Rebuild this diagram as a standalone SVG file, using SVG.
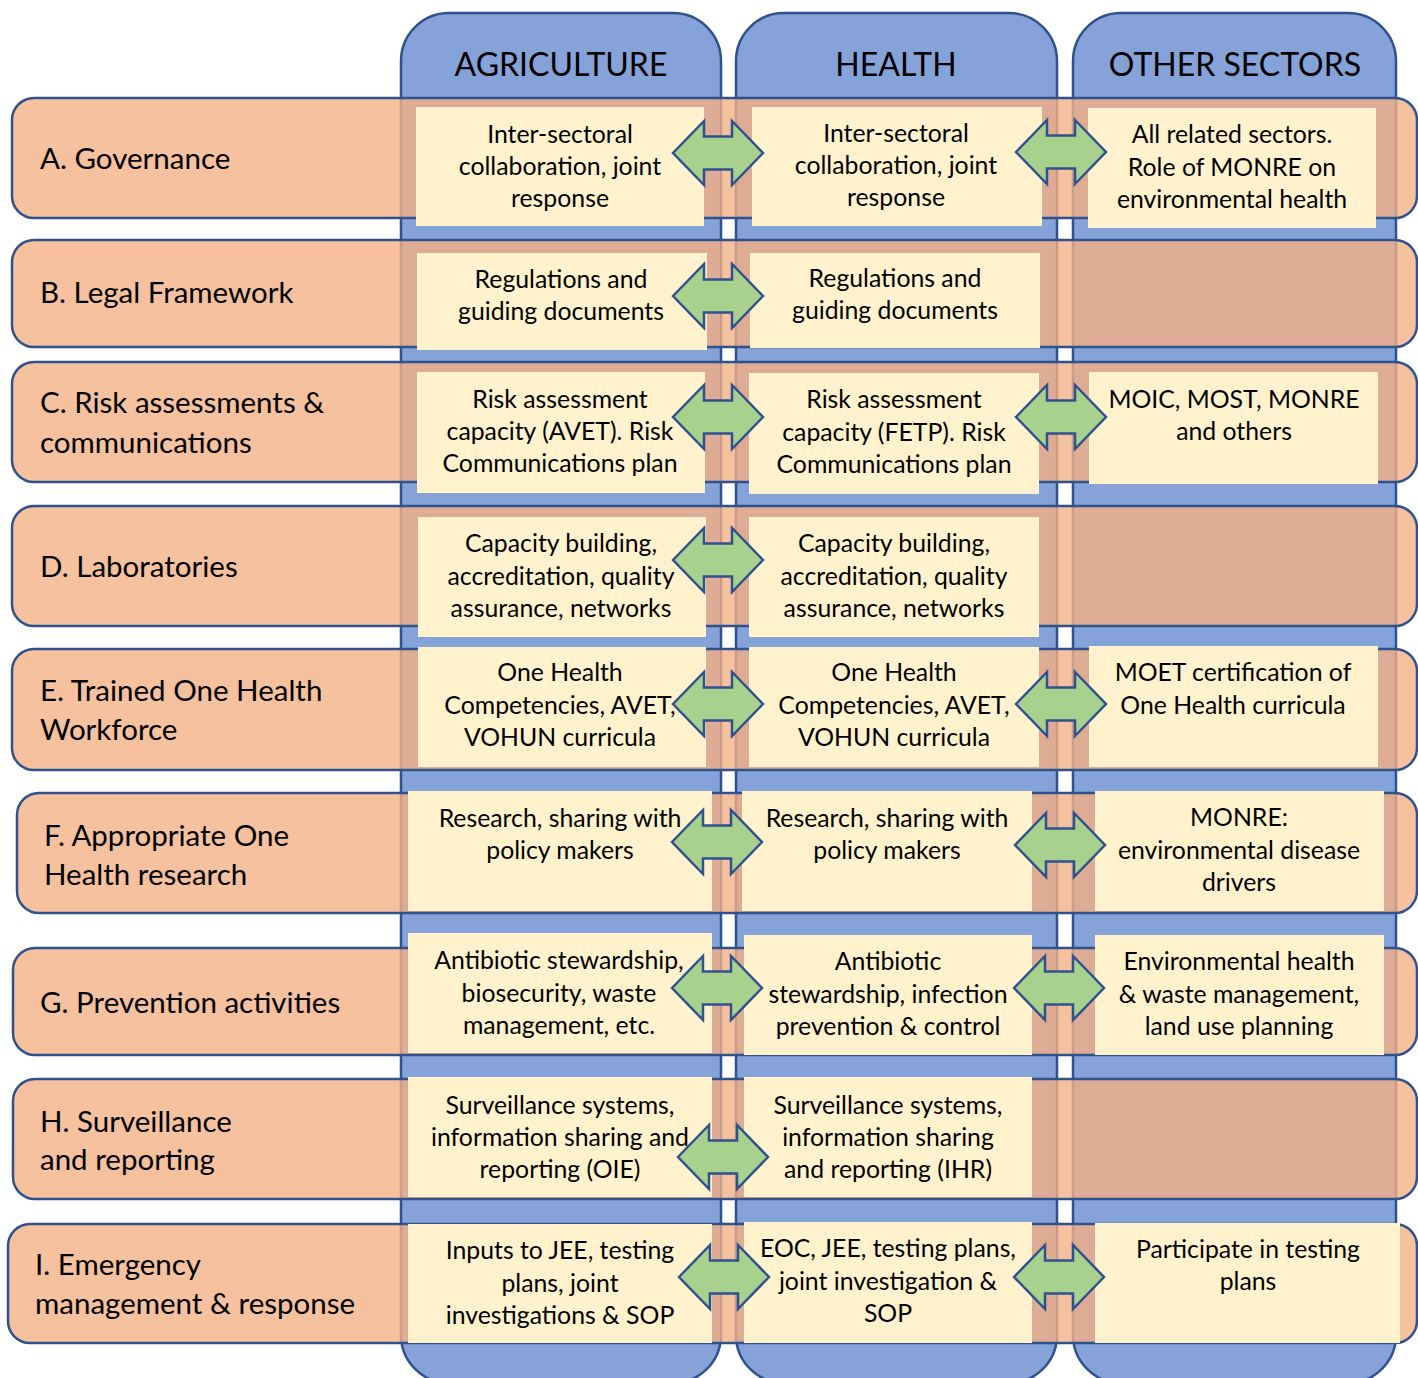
<svg xmlns="http://www.w3.org/2000/svg" width="1418" height="1378" viewBox="0 0 1418 1378">
  <style>
    .col { fill: #86A3D9; stroke: #2F528F; stroke-width: 2.5; }
    .row { fill: #F5C19E; }
    .tan { fill: #DEAC94; }
    .seam { fill: none; stroke: #C89D88; stroke-width: 2.5; }
    .edge { fill: none; stroke: #2F528F; stroke-width: 2.5; }
    .box { fill: #FFF2CC; }
    .arrow { fill: #A9D18E; stroke: #2F528F; stroke-width: 2.5; stroke-linejoin: miter; }
    text { font-family: Lato, "Liberation Sans", sans-serif; fill: #000; }
    .hdr { font-size: 32px; text-anchor: middle; }
    .lbl { font-size: 29.5px; }
    .txt { font-size: 24.8px; text-anchor: middle; }
  </style>
  <defs>
    <path id="dbl" d="M0,0 L31,-32 L31,-16.5 L59,-16.5 L59,-32 L90,0 L59,32 L59,16.5 L31,16.5 L31,32 Z"/>
  </defs>

  <rect width="1418" height="1378" fill="#FFFFFF"/>

  <!-- sector columns -->
  <g id="col-agriculture">
    <rect class="col" x="401" y="13" width="320" height="1370" rx="48"/>
    <text class="hdr" x="561" y="76">AGRICULTURE</text>
  </g>
  <g id="col-health">
    <rect class="col" x="736" y="13" width="321" height="1370" rx="48"/>
    <text class="hdr" x="896" y="76">HEALTH</text>
  </g>
  <g id="col-other">
    <rect class="col" x="1073" y="13" width="323" height="1370" rx="48"/>
    <text class="hdr" x="1235" y="76">OTHER SECTORS</text>
  </g>

  <!-- capacity rows -->
  <g id="row-a">
    <rect class="row" x="12" y="98" width="1405" height="120" rx="22"/>
    <path class="tan" d="M401,98h320v120h-320z M736,98h321v120h-321z M1073,98h323v120h-323z"/>
    <path class="seam" d="M401,98v120 M721,98v120 M736,98v120 M1057,98v120 M1073,98v120 M1396,98v120"/>
    <rect class="edge" x="12" y="98" width="1405" height="120" rx="22"/>
    <text class="lbl" x="40" y="169">A. Governance</text>
  </g>
  <g id="row-b">
    <rect class="row" x="12" y="240" width="1405" height="107" rx="22"/>
    <path class="tan" d="M401,240h320v107h-320z M736,240h321v107h-321z M1073,240h323v107h-323z"/>
    <path class="seam" d="M401,240v107 M721,240v107 M736,240v107 M1057,240v107 M1073,240v107 M1396,240v107"/>
    <rect class="edge" x="12" y="240" width="1405" height="107" rx="22"/>
    <text class="lbl" x="40" y="303">B. Legal Framework</text>
  </g>
  <g id="row-c">
    <rect class="row" x="12" y="362" width="1405" height="120" rx="22"/>
    <path class="tan" d="M401,362h320v120h-320z M736,362h321v120h-321z M1073,362h323v120h-323z"/>
    <path class="seam" d="M401,362v120 M721,362v120 M736,362v120 M1057,362v120 M1073,362v120 M1396,362v120"/>
    <rect class="edge" x="12" y="362" width="1405" height="120" rx="22"/>
    <text class="lbl" x="40" y="413">C. Risk assessments &amp;</text>
    <text class="lbl" x="40" y="453">communications</text>
  </g>
  <g id="row-d">
    <rect class="row" x="12" y="506" width="1405" height="120" rx="22"/>
    <path class="tan" d="M401,506h320v120h-320z M736,506h321v120h-321z M1073,506h323v120h-323z"/>
    <path class="seam" d="M401,506v120 M721,506v120 M736,506v120 M1057,506v120 M1073,506v120 M1396,506v120"/>
    <rect class="edge" x="12" y="506" width="1405" height="120" rx="22"/>
    <text class="lbl" x="40" y="577">D. Laboratories</text>
  </g>
  <g id="row-e">
    <rect class="row" x="12" y="649" width="1405" height="121" rx="22"/>
    <path class="tan" d="M401,649h320v121h-320z M736,649h321v121h-321z M1073,649h323v121h-323z"/>
    <path class="seam" d="M401,649v121 M721,649v121 M736,649v121 M1057,649v121 M1073,649v121 M1396,649v121"/>
    <rect class="edge" x="12" y="649" width="1405" height="121" rx="22"/>
    <text class="lbl" x="40" y="701">E. Trained One Health</text>
    <text class="lbl" x="40" y="740">Workforce</text>
  </g>
  <g id="row-f">
    <rect class="row" x="17" y="793" width="1400" height="120" rx="22"/>
    <path class="tan" d="M401,793h320v120h-320z M736,793h321v120h-321z M1073,793h323v120h-323z"/>
    <path class="seam" d="M401,793v120 M721,793v120 M736,793v120 M1057,793v120 M1073,793v120 M1396,793v120"/>
    <rect class="edge" x="17" y="793" width="1400" height="120" rx="22"/>
    <text class="lbl" x="44" y="846">F. Appropriate One</text>
    <text class="lbl" x="44" y="885">Health research</text>
  </g>
  <g id="row-g">
    <rect class="row" x="13" y="948" width="1404" height="107" rx="22"/>
    <path class="tan" d="M401,948h320v107h-320z M736,948h321v107h-321z M1073,948h323v107h-323z"/>
    <path class="seam" d="M401,948v107 M721,948v107 M736,948v107 M1057,948v107 M1073,948v107 M1396,948v107"/>
    <rect class="edge" x="13" y="948" width="1404" height="107" rx="22"/>
    <text class="lbl" x="40" y="1013">G. Prevention activities</text>
  </g>
  <g id="row-h">
    <rect class="row" x="13" y="1079" width="1404" height="120" rx="22"/>
    <path class="tan" d="M401,1079h320v120h-320z M736,1079h321v120h-321z M1073,1079h323v120h-323z"/>
    <path class="seam" d="M401,1079v120 M721,1079v120 M736,1079v120 M1057,1079v120 M1073,1079v120 M1396,1079v120"/>
    <rect class="edge" x="13" y="1079" width="1404" height="120" rx="22"/>
    <text class="lbl" x="40" y="1132">H. Surveillance</text>
    <text class="lbl" x="40" y="1170">and reporting</text>
  </g>
  <g id="row-i">
    <rect class="row" x="8" y="1224" width="1409" height="119" rx="22"/>
    <path class="tan" d="M401,1224h320v119h-320z M736,1224h321v119h-321z M1073,1224h323v119h-323z"/>
    <path class="seam" d="M401,1224v119 M721,1224v119 M736,1224v119 M1057,1224v119 M1073,1224v119 M1396,1224v119"/>
    <rect class="edge" x="8" y="1224" width="1409" height="119" rx="22"/>
    <text class="lbl" x="35" y="1275">I. Emergency</text>
    <text class="lbl" x="35" y="1314">management &amp; response</text>
  </g>

  <!-- cell boxes -->
  <g id="a-agri"><rect class="box" x="416" y="107" width="288" height="119"/>
    <text class="txt" x="560" y="143">Inter-sectoral</text><text class="txt" x="560" y="175">collaboration, joint</text><text class="txt" x="560" y="207">response</text></g>
  <g id="a-health"><rect class="box" x="752" y="107" width="290" height="119"/>
    <text class="txt" x="896" y="142">Inter-sectoral</text><text class="txt" x="896" y="174">collaboration, joint</text><text class="txt" x="896" y="206">response</text></g>
  <g id="a-other"><rect class="box" x="1088" y="108" width="288" height="120"/>
    <text class="txt" x="1232" y="143">All related sectors.</text><text class="txt" x="1232" y="176">Role of MONRE on</text><text class="txt" x="1232" y="208">environmental health</text></g>

  <g id="b-agri"><rect class="box" x="417" y="253" width="290" height="97"/>
    <text class="txt" x="561" y="288">Regulations and</text><text class="txt" x="561" y="320">guiding documents</text></g>
  <g id="b-health"><rect class="box" x="750" y="253" width="290" height="95"/>
    <text class="txt" x="895" y="287">Regulations and</text><text class="txt" x="895" y="319">guiding documents</text></g>

  <g id="c-agri"><rect class="box" x="417" y="372" width="288" height="121"/>
    <text class="txt" x="560" y="408">Risk assessment</text><text class="txt" x="560" y="440">capacity (AVET). Risk</text><text class="txt" x="560" y="472">Communications plan</text></g>
  <g id="c-health"><rect class="box" x="749" y="373" width="290" height="121"/>
    <text class="txt" x="894" y="408">Risk assessment</text><text class="txt" x="894" y="441">capacity (FETP). Risk</text><text class="txt" x="894" y="473">Communications plan</text></g>
  <g id="c-other"><rect class="box" x="1089" y="372" width="289" height="112"/>
    <text class="txt" x="1234" y="408">MOIC, MOST, MONRE</text><text class="txt" x="1234" y="440">and others</text></g>

  <g id="d-agri"><rect class="box" x="418" y="517" width="288" height="120"/>
    <text class="txt" x="561" y="552">Capacity building,</text><text class="txt" x="561" y="585">accreditation, quality</text><text class="txt" x="561" y="617">assurance, networks</text></g>
  <g id="d-health"><rect class="box" x="749" y="517" width="290" height="120"/>
    <text class="txt" x="894" y="552">Capacity building,</text><text class="txt" x="894" y="585">accreditation, quality</text><text class="txt" x="894" y="617">assurance, networks</text></g>

  <g id="e-agri"><rect class="box" x="418" y="647" width="288" height="120"/>
    <text class="txt" x="560" y="681">One Health</text><text class="txt" x="560" y="714">Competencies, AVET,</text><text class="txt" x="560" y="746">VOHUN curricula</text></g>
  <g id="e-health"><rect class="box" x="749" y="647" width="290" height="120"/>
    <text class="txt" x="894" y="681">One Health</text><text class="txt" x="894" y="714">Competencies, AVET,</text><text class="txt" x="894" y="746">VOHUN curricula</text></g>
  <g id="e-other"><rect class="box" x="1089" y="646" width="289" height="121"/>
    <text class="txt" x="1233" y="681">MOET certification of</text><text class="txt" x="1233" y="714">One Health curricula</text></g>

  <g id="f-agri"><rect class="box" x="408" y="791" width="304" height="120"/>
    <text class="txt" x="560" y="827">Research, sharing with</text><text class="txt" x="560" y="859">policy makers</text></g>
  <g id="f-health"><rect class="box" x="742" y="791" width="290" height="120"/>
    <text class="txt" x="887" y="827">Research, sharing with</text><text class="txt" x="887" y="859">policy makers</text></g>
  <g id="f-other"><rect class="box" x="1095" y="791" width="289" height="120"/>
    <text class="txt" x="1239" y="826">MONRE:</text><text class="txt" x="1239" y="859">environmental disease</text><text class="txt" x="1239" y="891">drivers</text></g>

  <g id="g-agri"><rect class="box" x="408" y="933" width="304" height="120"/>
    <text class="txt" x="559" y="969">Antibiotic stewardship,</text><text class="txt" x="559" y="1002">biosecurity, waste</text><text class="txt" x="559" y="1034">management, etc.</text></g>
  <g id="g-health"><rect class="box" x="744" y="935" width="288" height="120"/>
    <text class="txt" x="888" y="970">Antibiotic</text><text class="txt" x="888" y="1003">stewardship, infection</text><text class="txt" x="888" y="1035">prevention &amp; control</text></g>
  <g id="g-other"><rect class="box" x="1095" y="935" width="289" height="120"/>
    <text class="txt" x="1239" y="970">Environmental health</text><text class="txt" x="1239" y="1003">&amp; waste management,</text><text class="txt" x="1239" y="1035">land use planning</text></g>

  <g id="h-agri"><rect class="box" x="408" y="1077" width="304" height="120"/>
    <text class="txt" x="560" y="1114">Surveillance systems,</text><text class="txt" x="560" y="1146">information sharing and</text><text class="txt" x="560" y="1178">reporting (OIE)</text></g>
  <g id="h-health"><rect class="box" x="744" y="1077" width="288" height="120"/>
    <text class="txt" x="888" y="1114">Surveillance systems,</text><text class="txt" x="888" y="1146">information sharing</text><text class="txt" x="888" y="1178">and reporting (IHR)</text></g>

  <g id="i-agri"><rect class="box" x="408" y="1224" width="304" height="119"/>
    <text class="txt" x="560" y="1259">Inputs to JEE, testing</text><text class="txt" x="560" y="1292">plans, joint</text><text class="txt" x="560" y="1324">investigations &amp; SOP</text></g>
  <g id="i-health"><rect class="box" x="744" y="1222" width="288" height="121"/>
    <text class="txt" x="888" y="1257">EOC, JEE, testing plans,</text><text class="txt" x="888" y="1290">joint investigation &amp;</text><text class="txt" x="888" y="1322">SOP</text></g>
  <g id="i-other"><rect class="box" x="1095" y="1223" width="305" height="120"/>
    <text class="txt" x="1248" y="1258">Participate in testing</text><text class="txt" x="1248" y="1290">plans</text></g>

  <!-- two-way links between sectors -->
  <g id="connectors" class="arrow">
    <use href="#dbl" x="673" y="153"/>
    <use href="#dbl" x="1016" y="152"/>
    <use href="#dbl" x="673" y="296"/>
    <use href="#dbl" x="673" y="417"/>
    <use href="#dbl" x="1016" y="417"/>
    <use href="#dbl" x="673" y="560"/>
    <use href="#dbl" x="673" y="704"/>
    <use href="#dbl" x="1016" y="704"/>
    <use href="#dbl" x="672" y="842"/>
    <use href="#dbl" x="1015" y="845"/>
    <use href="#dbl" x="672" y="988"/>
    <use href="#dbl" x="1014" y="988"/>
    <use href="#dbl" x="678" y="1157"/>
    <use href="#dbl" x="679" y="1277"/>
    <use href="#dbl" x="1014" y="1277"/>
  </g>
</svg>
